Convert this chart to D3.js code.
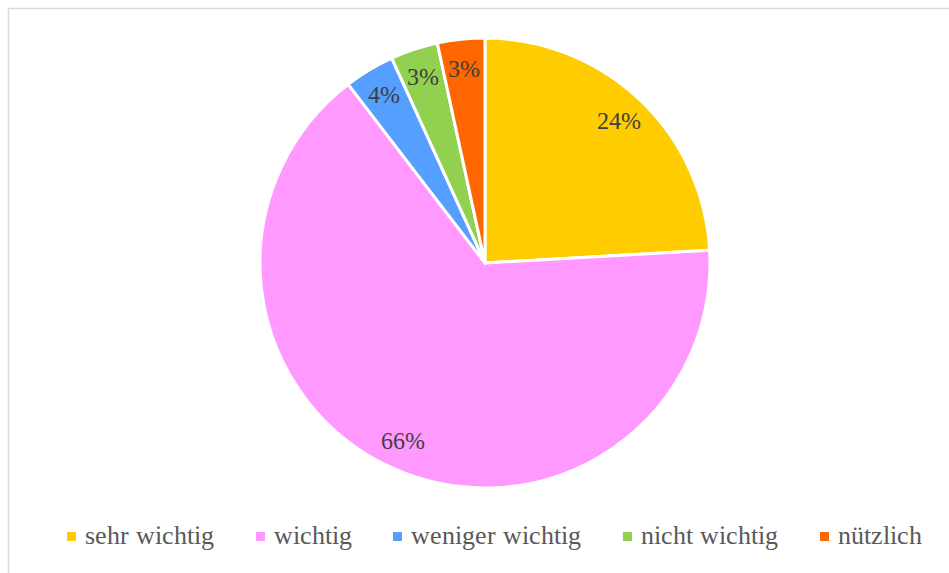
<!DOCTYPE html>
<html>
<head>
<meta charset="utf-8">
<script src="https://cdn.jsdelivr.net/npm/d3@7"></script>
<style>
  @font-face { font-family: "ChartSerif"; src: local("Liberation Serif"), local("LiberationSerif"), local("Liberation Serif Regular"); }
  body { margin: 0; background: #fff; font-family: "Liberation Serif", serif; }
</style>
</head>
<body>
<script>
// Chart data (slice sizes, labels as printed)
let categories = ["sehr wichtig", "wichtig", "weniger wichtig", "nicht wichtig", "nützlich"];
let values = [24.1, 65.5, 3.6, 3.4, 3.4];
let labels = ["24%", "66%", "4%", "3%", "3%"];
let colors = ["#FFCC00", "#FF99FF", "#549FFF", "#92D050", "#FF6600"];

let svgWidth = 949;
let svgHeight = 573;
let serifFont = "ChartSerif, Liberation Serif, serif";

let cx = 485, cy = 263, radius = 225;

let svg = d3.select("body")
  .append("svg")
  .attr("width", svgWidth)
  .attr("height", svgHeight)
  .attr("font-family", "Liberation Serif");

// chart area border (runs off the right and bottom edges)
svg.append("rect")
  .attr("x", 8.5)
  .attr("y", 8.5)
  .attr("width", 1000)
  .attr("height", 700)
  .attr("fill", "none")
  .attr("stroke", "#d9d9d9")
  .attr("stroke-width", 1.5);

let data = categories.map((c, i) => ({ name: c, value: values[i], label: labels[i], color: colors[i] }));

let pie = d3.pie()
  .value(d => d.value)
  .sort(null);

let arc = d3.arc()
  .innerRadius(0)
  .outerRadius(radius);

let labelArc = d3.arc()
  .innerRadius(radius * 0.87)
  .outerRadius(radius * 0.87);

let pieGroup = svg.append("g")
  .attr("transform", `translate(${cx}, ${cy})`);

let arcs = pie(data);

pieGroup.selectAll("path")
  .data(arcs)
  .enter()
  .append("path")
  .attr("d", arc)
  .attr("fill", d => d.data.color)
  .attr("stroke", "#fff")
  .attr("stroke-width", 3)
  .attr("stroke-linejoin", "round");

pieGroup.selectAll("text")
  .data(arcs)
  .enter()
  .append("text")
  .attr("transform", d => `translate(${labelArc.centroid(d)})`)
  .attr("text-anchor", "middle")
  .attr("dy", "0.35em")
  .attr("font-size", 23.5)
  .attr("fill", "#404040")
  .attr("font-family", serifFont)
  .text(d => d.data.label);

// Legend
let legendX = [67, 256, 393, 623, 820];
let legend = svg.append("g");

let items = legend.selectAll("g")
  .data(data)
  .enter()
  .append("g")
  .attr("transform", (d, i) => `translate(${legendX[i]}, 0)`);

items.append("rect")
  .attr("x", 0)
  .attr("y", 532)
  .attr("width", 9)
  .attr("height", 9)
  .attr("fill", d => d.color);

items.append("text")
  .attr("x", 18)
  .attr("y", 544)
  .attr("font-size", 26)
  .attr("fill", "#595959")
  .attr("font-family", serifFont)
  .text(d => d.name);
</script>
</body>
</html>
